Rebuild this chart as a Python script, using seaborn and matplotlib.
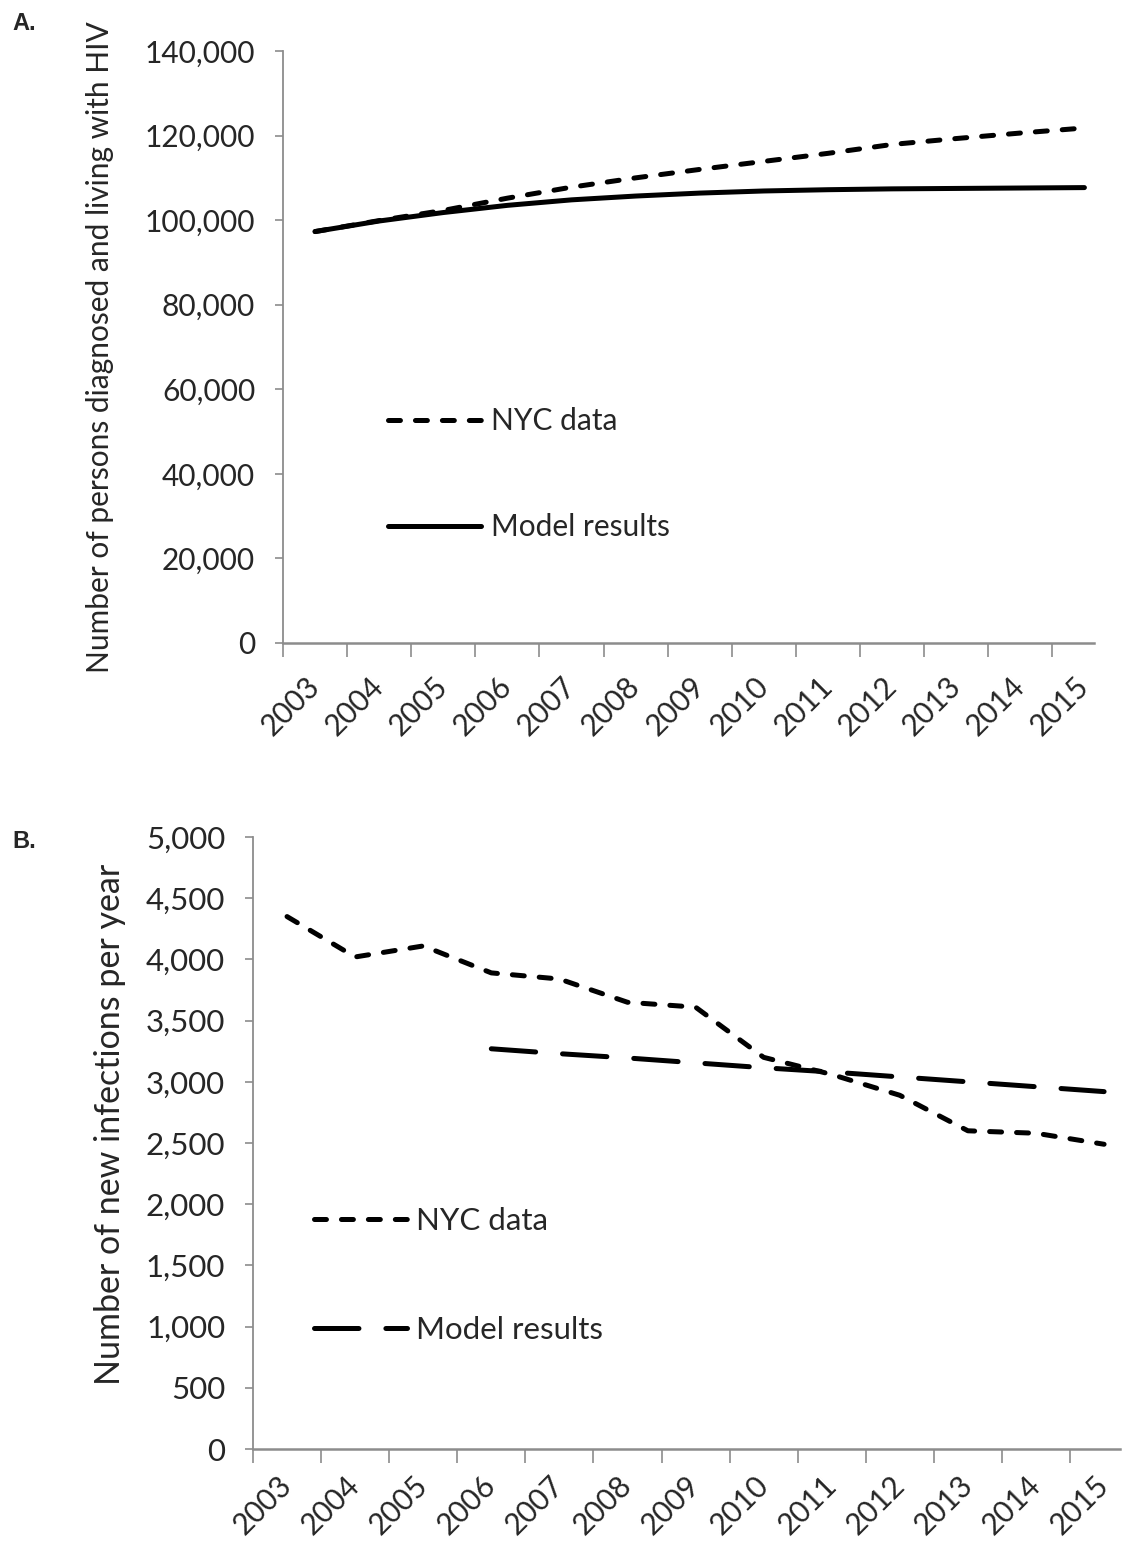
import numpy as np
import pandas as pd
import seaborn as sns
import matplotlib.pyplot as plt
from matplotlib.ticker import FuncFormatter

# datos
years = list(range(2003, 2016))
nyc_living = [97300, 99900, 102300, 105200, 107800, 110000, 112000,
              113900, 115800, 117900, 119300, 120600, 121800]
model_living = [97300, 99800, 101800, 103500, 104800, 105700, 106400,
                106900, 107200, 107400, 107500, 107600, 107700]

nyc_new = [4350, 4020, 4110, 3890, 3840, 3650, 3610,
           3200, 3060, 2890, 2600, 2580, 2490]
model_years = list(range(2006, 2016))
model_new = [3270, 3230, 3195, 3155, 3115, 3080, 3040, 3000, 2960, 2920]

sns.set_style("white")
plt.rcParams['font.family'] = ['Lato', 'DejaVu Sans']
plt.rcParams['lines.scale_dashes'] = False

fsA = 21.5
fsB = 22.5
gray = '#8c8c8c'
lw = 3.6

fig = plt.figure(figsize=(11.33, 15.46), dpi=100)
axA = fig.add_axes([0.2498, 0.5841, 0.7158, 0.3829])
axB = fig.add_axes([0.2233, 0.0627, 0.7650, 0.3959])

short_dash = (0, (8.6, 10.8))
long_dash = (0, (32, 19.4))

# Panel A
sns.lineplot(x=years, y=nyc_living, ax=axA, color='black', lw=lw,
             linestyle=short_dash, dash_capstyle='round', label='NYC data')
sns.lineplot(x=years, y=model_living, ax=axA, color='black', lw=lw,
             solid_capstyle='round', label='Model results')
axA.set_ylim(0, 140000)
axA.set_xlim(2002.5, 2015.15)
axA.set_yticks(np.arange(0, 140001, 20000))
axA.set_ylabel('Number of persons diagnosed and living with HIV', fontsize=fsA, labelpad=22)

# Panel B
sns.lineplot(x=years, y=nyc_new, ax=axB, color='black', lw=lw,
             linestyle=short_dash, dash_capstyle='round', label='NYC data')
sns.lineplot(x=model_years, y=model_new, ax=axB, color='black', lw=lw,
             linestyle=long_dash, dash_capstyle='round', label='Model results')
axB.set_ylim(0, 5000)
axB.set_xlim(2002.5, 2015.23)
axB.set_yticks(np.arange(0, 5001, 500))
axB.set_ylabel('Number of new infections per year', fontsize=24.5, labelpad=14, y=0.53)

xtick_cfg = {axA: (fsA, 28), axB: (21.5, 23)}
for ax, fs in ((axA, fsA), (axB, fsB)):
    sns.despine(ax=ax)
    ax.spines['left'].set_color(gray)
    ax.spines['bottom'].set_color(gray)
    ax.spines['left'].set_linewidth(1.3)
    ax.spines['bottom'].set_linewidth(1.8)
    ax.yaxis.set_major_formatter(FuncFormatter(lambda v, p: f'{int(v):,}'))
    ax.tick_params(axis='y', which='major', direction='out', length=6, width=1.2,
                   color=gray, labelsize=fs, pad=14, left=True)
    # ticks en los limites de categoria, etiquetas en el centro
    ax.set_xticks(np.arange(2002.5, 2015, 1.0))
    ax.set_xticklabels([])
    ax.set_xticks(years, minor=True)
    ax.set_xticklabels([str(y) for y in years], minor=True, rotation=45,
                       ha='right', va='center', rotation_mode='anchor')
    ax.tick_params(axis='x', which='major', direction='out', length=10, width=1.2,
                   color=gray, bottom=True)
    xs, xp = xtick_cfg[ax]
    ax.tick_params(axis='x', which='minor', length=0, labelsize=xs, pad=xp)
    ax.set_xlabel('')
    ax.grid(False)

axA.legend(loc='upper left', bbox_to_anchor=(0.13, 0.398), frameon=False,
           fontsize=fsA, handlelength=3.1, handletextpad=0.33, labelspacing=2.6,
           borderpad=0, borderaxespad=0)
axB.legend(loc='upper left', bbox_to_anchor=(0.07, 0.396), frameon=False,
           fontsize=fsB, handlelength=3.0, handletextpad=0.28, labelspacing=2.6,
           borderpad=0, borderaxespad=0)

fig.text(0.011, 0.992, 'A.', fontsize=17, fontweight='bold', family='Liberation Sans', va='top')
fig.text(0.011, 0.463, 'B.', fontsize=17, fontweight='bold', family='Liberation Sans', va='top')

fig.savefig('out.png', dpi=100)
